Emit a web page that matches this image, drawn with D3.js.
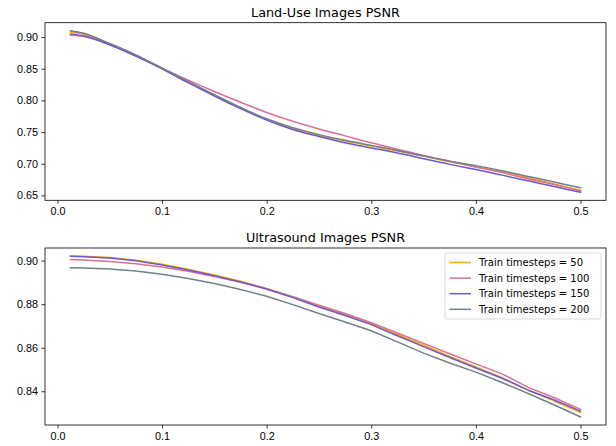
<!DOCTYPE html>
<html>
<head>
<meta charset="utf-8">
<script src="https://cdn.jsdelivr.net/npm/d3@7"></script>
<style>
  body { margin: 0; background: #fff; }
  svg { display: block; font-family: 'DejaVu Sans', sans-serif; }
</style>
</head>
<body>
<div id="chart"></div>
<script>
// noise level on the x axis
const noise = [0.0125, 0.025, 0.05, 0.075, 0.1, 0.125, 0.15, 0.175, 0.2, 0.225, 0.25,
  0.275, 0.3, 0.325, 0.35, 0.375, 0.4, 0.425, 0.45, 0.475, 0.5]

const seriesNames = ['Train timesteps = 50', 'Train timesteps = 100', 'Train timesteps = 150', 'Train timesteps = 200']

const landUse50 = [0.908, 0.905, 0.889, 0.871, 0.851, 0.829, 0.808, 0.788, 0.770, 0.756, 0.745,
  0.736, 0.728, 0.720, 0.712, 0.703, 0.695, 0.687, 0.678, 0.668, 0.658]
const landUse100 = [0.903, 0.901, 0.888, 0.870, 0.851, 0.832, 0.814, 0.797, 0.781, 0.767, 0.755,
  0.744, 0.733, 0.723, 0.713, 0.704, 0.695, 0.686, 0.676, 0.667, 0.657]
const landUse150 = [0.905, 0.902, 0.888, 0.870, 0.850, 0.828, 0.807, 0.787, 0.769, 0.754, 0.743,
  0.733, 0.725, 0.717, 0.708, 0.699, 0.691, 0.682, 0.673, 0.664, 0.655]
const landUse200 = [0.910, 0.906, 0.890, 0.872, 0.851, 0.830, 0.809, 0.789, 0.771, 0.757, 0.746,
  0.737, 0.729, 0.721, 0.712, 0.704, 0.697, 0.689, 0.680, 0.671, 0.662]

const ultra50 = [0.9021, 0.9020, 0.9014, 0.9002, 0.8983, 0.8960, 0.8934, 0.8905, 0.8872, 0.8834, 0.8792,
  0.8752, 0.8712, 0.8662, 0.8612, 0.8560, 0.8512, 0.8462, 0.8405, 0.8355, 0.8302]
const ultra100 = [0.9005, 0.9003, 0.8996, 0.8986, 0.8971, 0.8951, 0.8927, 0.8900, 0.8870, 0.8834, 0.8795,
  0.8757, 0.8715, 0.8668, 0.8620, 0.8572, 0.8526, 0.8480, 0.8418, 0.8370, 0.8317]
const ultra150 = [0.9020, 0.9018, 0.9012, 0.8999, 0.8980, 0.8957, 0.8931, 0.8902, 0.8870, 0.8830, 0.8787,
  0.8748, 0.8706, 0.8655, 0.8605, 0.8555, 0.8507, 0.8460, 0.8405, 0.8360, 0.8309]
const ultra200 = [0.8967, 0.8966, 0.8962, 0.8952, 0.8937, 0.8918, 0.8895, 0.8867, 0.8836, 0.8798, 0.8757,
  0.8718, 0.8678, 0.8627, 0.8575, 0.8530, 0.8488, 0.8440, 0.8390, 0.8337, 0.8282]

const xTicks = [0.0, 0.1, 0.2, 0.3, 0.4, 0.5]
const landUseTicks = [0.65, 0.70, 0.75, 0.80, 0.85, 0.90]
const ultraTicks = [0.84, 0.86, 0.88, 0.90]

const colors = ['#ffa500', '#db7093', '#6a5acd', '#708090']

const W = 616, H = 446
const svg = d3.select('#chart').append('svg').attr('width', W).attr('height', H)

// matplotlib style 5% margins
function padded(ext) {
  const m = (ext[1] - ext[0]) * 0.05
  return [ext[0] - m, ext[1] + m]
}

function drawPanel(box, title, series, yTicks, curve, legend) {
  const x = d3.scaleLinear().domain(padded(d3.extent(noise))).range([box.left, box.right])
  const y = d3.scaleLinear().domain(padded(d3.extent(series.flat()))).range([box.bottom, box.top])

  const g = svg.append('g')

  g.append('g')
    .attr('transform', `translate(0,${box.bottom})`)
    .call(d3.axisBottom(x).tickValues(xTicks).tickFormat(d3.format('.1f')).tickSize(3.5).tickPadding(3.5))
    .call(a => a.select('.domain').remove())
  g.append('g')
    .attr('transform', `translate(${box.left},0)`)
    .call(d3.axisLeft(y).tickValues(yTicks).tickFormat(d3.format('.2f')).tickSize(3.5).tickPadding(3.5))
    .call(a => a.select('.domain').remove())
  g.selectAll('.tick text').attr('font-size', 10.8).attr('fill', '#000')
  g.selectAll('.tick line').attr('stroke', '#000').attr('stroke-width', 0.8)

  const line = d3.line().x((d, i) => x(noise[i])).y(d => y(d)).curve(curve)
  series.forEach((s, i) => {
    g.append('path')
      .attr('d', line(s))
      .attr('fill', 'none')
      .attr('stroke', colors[i])
      .attr('stroke-width', 1.5)
      .attr('stroke-linejoin', 'round')
      .attr('stroke-linecap', 'square')
  })

  g.append('rect')
    .attr('x', box.left).attr('y', box.top)
    .attr('width', box.right - box.left).attr('height', box.bottom - box.top)
    .attr('fill', 'none').attr('stroke', '#000').attr('stroke-width', 0.8)

  g.append('text')
    .attr('x', (box.left + box.right) / 2).attr('y', box.top - 6)
    .attr('text-anchor', 'middle').attr('font-size', 12.8).attr('fill', '#000')
    .text(title)

  if (legend) {
    const lg = g.append('g').attr('transform', `translate(${box.right - 161},${box.top + 5})`)
    lg.append('rect')
      .attr('width', 156).attr('height', 66).attr('rx', 2.5)
      .attr('fill', '#fff').attr('fill-opacity', 0.8)
      .attr('stroke', '#d0d0d0').attr('stroke-width', 0.8)
    seriesNames.forEach((name, i) => {
      const cy = 9.5 + i * 15.6
      lg.append('line')
        .attr('x1', 4.5).attr('x2', 26).attr('y1', cy).attr('y2', cy)
        .attr('stroke', colors[i]).attr('stroke-width', 1.5)
      lg.append('text')
        .attr('x', 34).attr('y', cy).attr('dy', '0.35em')
        .attr('font-size', 10).attr('fill', '#000')
        .text(name)
    })
  }
}

drawPanel({left: 45, right: 606, top: 22.7, bottom: 200.3}, 'Land-Use Images PSNR',
  [landUse50, landUse100, landUse150, landUse200], landUseTicks, d3.curveMonotoneX, false)
drawPanel({left: 45, right: 606, top: 248, bottom: 425}, 'Ultrasound Images PSNR',
  [ultra50, ultra100, ultra150, ultra200], ultraTicks, d3.curveLinear, true)
</script>
</body>
</html>
